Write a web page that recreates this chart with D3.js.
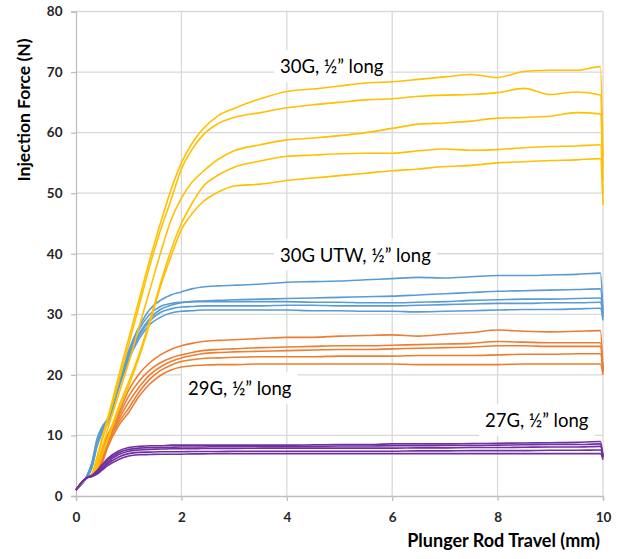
<!DOCTYPE html>
<html>
<head>
<meta charset="utf-8">
<script src="https://cdn.jsdelivr.net/npm/d3@7"></script>
<style>
  body { margin: 0; background: #fff; }
  svg { display: block; font-family: Lato, "Open Sans", sans-serif; }
</style>
</head>
<body>
<script>
const width = 624;
const height = 559;
const margin = { top: 11.5, right: 21, bottom: 63, left: 76 };

// plunger travel (mm), shared by every trace
const travel = [0, 0.2, 0.3, 0.4, 0.5, 0.6, 0.8, 1.0, 1.2, 1.4, 1.6, 1.8, 2.0, 2.2, 2.4, 2.7,
  3.0, 3.5, 4.0, 4.5, 5.0, 5.5, 6.0, 6.5, 7.0, 7.5, 8.0, 8.5, 9.0, 9.5, 9.95, 10];

// injection force (N), five syringes per needle
const force30G = [
  [1, 3, 3.6, 6.5, 9.8, 12.8, 19.5, 26, 32.5, 39, 45, 50.5, 55, 58.2, 60.5, 62.8, 64, 65.6, 66.8, 67.2, 67.7, 68.2, 68.4, 68.8, 69.2, 69.6, 69.1, 70.1, 70.3, 70.3, 70.9, 56],
  [1, 3, 3.5, 6.2, 9.3, 12.3, 18.5, 25, 31.5, 38, 43.8, 48.8, 54, 57.2, 59.5, 61.5, 62.5, 63.3, 64.1, 64.6, 65.0, 65.4, 65.6, 66.0, 66.2, 66.3, 66.6, 67.3, 66.3, 66.7, 66.2, 54],
  [1, 3, 3.4, 5.5, 8, 11, 16.5, 22, 28, 34, 40, 45.5, 49.2, 51.8, 53.5, 55.6, 57, 58, 58.8, 59.1, 59.5, 60, 60.7, 61.4, 61.6, 61.9, 62.4, 62.5, 62.7, 63.3, 63.1, 52],
  [1, 3, 3.3, 4.8, 7, 9.5, 14.5, 18.8, 23.5, 29, 35, 40.5, 45, 48.3, 51, 53, 54.3, 55.3, 56.1, 56.3, 56.5, 56.6, 56.6, 57, 57.3, 57.1, 57.2, 57.5, 57.7, 57.8, 58, 50],
  [1, 3, 3.3, 4.6, 6.8, 9.2, 14, 18.2, 23, 28.5, 34.5, 39.5, 44, 46.6, 48.5, 50.2, 51.2, 51.5, 52.1, 52.5, 52.9, 53.3, 53.7, 54, 54.4, 54.6, 55, 55.2, 55.4, 55.5, 55.7, 48]
];
const force30GUTW = [
  [1, 3.2, 5.5, 9.5, 11.5, 12.8, 18.5, 24, 28, 30.8, 32.3, 33.2, 33.7, 34.2, 34.5, 34.7, 34.8, 35, 35.3, 35.4, 35.5, 35.7, 35.9, 36.1, 36, 36.2, 36.4, 36.4, 36.5, 36.6, 36.8, 30.5],
  [1, 3.2, 5.3, 9, 11.2, 12.6, 18, 23.2, 26.8, 29.3, 30.8, 31.5, 31.9, 32.1, 32.2, 32.3, 32.4, 32.5, 32.6, 32.7, 32.8, 32.9, 33, 33.2, 33.4, 33.6, 33.8, 33.9, 34, 34.1, 34.2, 30],
  [1, 3.1, 5, 8.8, 11, 12.5, 18.3, 23.5, 27.5, 30, 31.3, 31.8, 32, 32.1, 32.1, 32.1, 32.1, 32.1, 32.1, 32.0, 32.0, 31.9, 31.9, 32.0, 32.1, 32.3, 32.4, 32.5, 32.5, 32.6, 32.7, 29.5],
  [1, 3.1, 4.8, 8.5, 10.8, 12.3, 17.8, 22.8, 26.5, 28.9, 30.3, 30.9, 31.2, 31.3, 31.4, 31.4, 31.4, 31.4, 31.5, 31.5, 31.4, 31.4, 31.4, 31.5, 31.6, 31.7, 31.8, 31.8, 31.9, 31.9, 32.0, 29.5],
  [1, 3, 4.6, 8.2, 10.5, 12, 17.5, 22.5, 26, 28.3, 29.5, 30.2, 30.5, 30.6, 30.7, 30.7, 30.7, 30.7, 30.7, 30.6, 30.6, 30.5, 30.5, 30.4, 30.5, 30.6, 30.7, 30.8, 30.8, 30.9, 31.0, 29]
];
const force29G = [
  [1, 3, 3.5, 5, 7.8, 10, 13.5, 17.5, 20.2, 22, 23.3, 24.2, 24.8, 25.2, 25.5, 25.7, 25.8, 26, 26.2, 26.2, 26.4, 26.5, 26.6, 26.4, 26.7, 27, 27.4, 27.2, 27.1, 27.2, 27.3, 21],
  [1, 3, 3.4, 4.6, 7, 9.5, 13, 16.5, 19, 20.8, 22, 22.8, 23.3, 23.7, 24, 24.2, 24.3, 24.5, 24.6, 24.7, 24.8, 24.8, 24.9, 25, 25.1, 25.2, 25.5, 25.4, 25.3, 25.3, 25.3, 20.5],
  [1, 3, 3.4, 4.3, 6.5, 9, 12.5, 15.5, 18, 20, 21.3, 22.2, 22.8, 23.2, 23.5, 23.7, 23.8, 23.9, 24, 24.1, 24.2, 24.2, 24.3, 24.4, 24.5, 24.6, 24.8, 24.8, 24.7, 24.7, 24.7, 20.5],
  [1, 3, 3.3, 4, 6, 8.5, 12, 14.5, 17.2, 19.3, 20.7, 21.6, 22.2, 22.5, 22.7, 22.8, 22.9, 23, 23, 23, 23.1, 23.1, 23.1, 23.2, 23.2, 23.2, 23.3, 23.4, 23.4, 23.5, 23.5, 20.5],
  [1, 3, 3.3, 3.8, 5.5, 8, 11.5, 13.8, 16.5, 18.5, 19.9, 20.8, 21.3, 21.5, 21.6, 21.7, 21.7, 21.8, 21.8, 21.8, 21.8, 21.8, 21.8, 21.7, 21.7, 21.7, 21.7, 21.8, 21.8, 21.8, 21.8, 20]
];
const force27G = [
  [1, 3, 3.4, 4.2, 5.2, 6.2, 7.4, 8, 8.2, 8.3, 8.3, 8.4, 8.4, 8.4, 8.4, 8.4, 8.4, 8.4, 8.4, 8.45, 8.5, 8.5, 8.6, 8.6, 8.6, 8.65, 8.7, 8.75, 8.8, 8.85, 9.0, 6.5],
  [1, 3, 3.4, 4.0, 5.0, 5.9, 7.1, 7.7, 7.9, 8.0, 8.0, 8.05, 8.1, 8.1, 8.1, 8.15, 8.15, 8.2, 8.2, 8.2, 8.25, 8.25, 8.3, 8.3, 8.35, 8.35, 8.4, 8.45, 8.5, 8.5, 8.6, 6.5],
  [1, 3, 3.3, 3.8, 4.7, 5.6, 6.8, 7.4, 7.6, 7.7, 7.75, 7.8, 7.8, 7.8, 7.85, 7.85, 7.85, 7.9, 7.9, 7.9, 7.9, 7.9, 7.9, 7.95, 7.95, 8.0, 8.0, 8.05, 8.1, 8.1, 8.2, 6.5],
  [1, 3, 3.3, 3.7, 4.5, 5.3, 6.4, 7.0, 7.2, 7.25, 7.3, 7.3, 7.3, 7.35, 7.35, 7.35, 7.4, 7.4, 7.4, 7.4, 7.4, 7.4, 7.4, 7.45, 7.45, 7.5, 7.5, 7.5, 7.55, 7.55, 7.6, 6.3],
  [1, 3, 3.2, 3.6, 4.3, 5.0, 6.0, 6.6, 6.8, 6.85, 6.9, 6.9, 6.9, 6.95, 6.95, 7, 7, 7, 7, 7, 7, 7, 7, 7, 7, 7, 7, 7, 7, 7, 7.0, 6.0]
];

const needleLabels = ["30G, ½” long", "30G UTW, ½” long", "29G, ½” long", "27G, ½” long"];
const xTicks = [0, 2, 4, 6, 8, 10];
const yTicks = [0, 10, 20, 30, 40, 50, 60, 70, 80];

const colors = {
  "30G": "#ffc000",
  "30GUTW": "#5b9bd5",
  "29G": "#ed7d31",
  "27G": "#7030a0"
};

const svg = d3.select("body")
    .append("svg")
    .attr("width", width)
    .attr("height", height);

const x = d3.scaleLinear().domain([0, 10]).range([margin.left, width - margin.right]);
const y = d3.scaleLinear().domain([0, 80]).range([height - margin.bottom, margin.top]);

// gridlines
svg.append("g")
    .selectAll("line.h")
    .data(yTicks.slice(1))
    .join("line")
    .attr("x1", x(0)).attr("x2", x(10))
    .attr("y1", d => y(d)).attr("y2", d => y(d))
    .attr("stroke", "#d9d9d9").attr("stroke-width", 1.3);

svg.append("g")
    .selectAll("line.v")
    .data(xTicks.slice(1))
    .join("line")
    .attr("x1", d => x(d)).attr("x2", d => x(d))
    .attr("y1", y(0)).attr("y2", y(80))
    .attr("stroke", "#d9d9d9").attr("stroke-width", 1.3);

// axes
const xAxis = d3.axisBottom(x).tickValues(xTicks).tickSize(5).tickPadding(11);
const yAxis = d3.axisLeft(y).tickValues(yTicks).tickSize(5).tickPadding(8.5);

const gx = svg.append("g")
    .attr("transform", `translate(0, ${y(0)})`)
    .call(xAxis);
const gy = svg.append("g")
    .attr("transform", `translate(${x(0)}, 0)`)
    .call(yAxis);

[gx, gy].forEach(g => {
  g.select(".domain").attr("stroke", "#bfbfbf").attr("stroke-width", 1.3);
  g.selectAll(".tick line").attr("stroke", "#bfbfbf").attr("stroke-width", 1.3);
  g.selectAll(".tick text")
      .attr("fill", "#262626")
      .style("font-family", "Lato, sans-serif")
      .style("font-size", "13.5px")
      .style("font-weight", "bold");
});

// axis titles
svg.append("text")
    .attr("x", 600)
    .attr("y", 547)
    .attr("text-anchor", "end")
    .attr("fill", "#000")
    .style("font-size", "18px")
    .style("font-weight", "bold")
    .text("Plunger Rod Travel (mm)");

svg.append("text")
    .attr("transform", "translate(30, 110) rotate(-90)")
    .attr("text-anchor", "middle")
    .attr("fill", "#000")
    .style("font-size", "17.5px")
    .style("font-weight", "bold")
    .text("Injection Force (N)");

// label boxes, white, sitting over the grid
const labelSpots = [
  { x: 3.87, y: 69.8 },
  { x: 3.87, y: 38.7 },
  { x: 2.125, y: 16.7 },
  { x: 7.76, y: 11.4 }
];

const labelG = svg.append("g");
needleLabels.forEach((lab, i) => {
  const s = labelSpots[i];
  const t = labelG.append("text")
      .attr("x", x(s.x))
      .attr("y", y(s.y))
      .attr("fill", "#000")
      .style("font-size", "18.5px")
      .text(lab);
  const bb = t.node().getBBox();
  labelG.insert("rect", "text")
      .attr("x", bb.x - 6)
      .attr("y", bb.y - 5)
      .attr("width", bb.width + 12)
      .attr("height", bb.height + 10)
      .attr("fill", "#fff");
});

// traces
const line = d3.line()
    .x((d, i) => x(travel[i]))
    .y(d => y(d))
    .curve(d3.curveMonotoneX);

const groups = [
  { key: "30GUTW", data: force30GUTW },
  { key: "29G", data: force29G },
  { key: "30G", data: force30G },
  { key: "27G", data: force27G }
];

groups.forEach(grp => {
  svg.append("g")
      .selectAll("path")
      .data(grp.data)
      .join("path")
      .attr("d", line)
      .attr("fill", "none")
      .attr("stroke", colors[grp.key])
      .attr("stroke-width", 1.6)
      .attr("stroke-linejoin", "round");
});
</script>
</body>
</html>
